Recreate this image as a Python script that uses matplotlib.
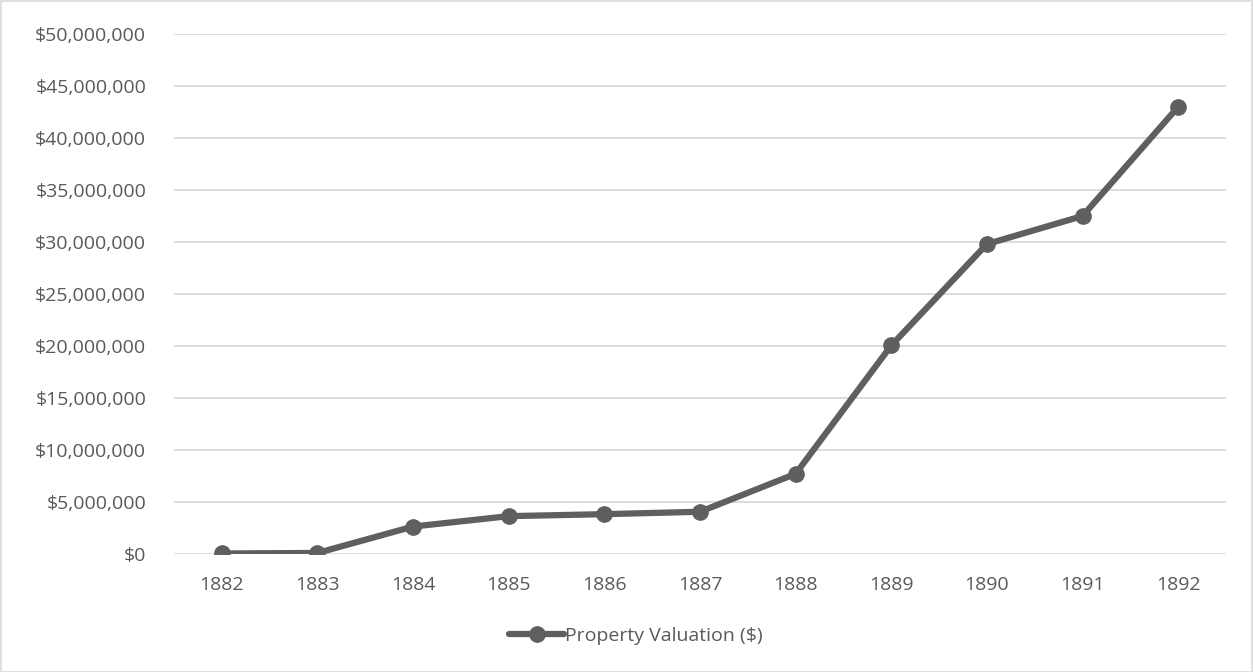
import matplotlib
matplotlib.use("Agg")
import matplotlib.pyplot as plt
from matplotlib.ticker import FuncFormatter, MultipleLocator
from matplotlib.patches import Rectangle

years = ["1882", "1883", "1884", "1885", "1886", "1887", "1888", "1889", "1890", "1891", "1892"]
valuation = [50000, 100000, 2640000, 3640000, 3830000, 4060000, 7710000, 20050000, 29800000, 32500000, 43000000]
series_name = "Property Valuation ($)"

W, H = 1253, 672
fig = plt.figure(figsize=(W / 100, H / 100), dpi=100)
plt.rcParams['font.family'] = ['Open Sans', 'DejaVu Sans']
text_color = "#595959"
grid_color = "#d9d9d9"
line_color = "#5f5f5f"
fs = 14

ax = fig.add_axes([174 / W, 1 - 554 / H, (1226 - 174) / W, (554 - 34) / H])
x = list(range(len(years)))
ax.plot(x, valuation, color=line_color, lw=4.5, marker='o', ms=11, solid_capstyle='round',
        label=series_name, zorder=3)
ax.set_xlim(-0.5, len(years) - 0.5)
ax.set_ylim(0, 50000000)
ax.yaxis.set_major_locator(MultipleLocator(5000000))
ax.yaxis.set_major_formatter(FuncFormatter(lambda v, p: "${:,.0f}".format(v)))
ax.set_xticks(x)
ax.set_xticklabels(years)
ax.grid(axis='y', color=grid_color, lw=1.3)
ax.set_axisbelow(True)
for s in ax.spines.values():
    s.set_visible(False)
ax.tick_params(axis='both', length=0, colors=text_color, labelsize=fs)
ax.tick_params(axis='y', pad=20)
ax.tick_params(axis='x', pad=16)

leg = fig.legend(loc='center', bbox_to_anchor=(636 / W, 1 - 636 / H), frameon=False,
                 fontsize=fs, labelcolor=text_color, handlelength=2.8, handletextpad=0.05)

fig.patches.append(Rectangle((0.5 / W, 0.5 / H), (W - 1.5) / W, (H - 1.5) / H,
                             transform=fig.transFigure, fill=False, edgecolor=grid_color, lw=1.2))

fig.savefig("out.png", dpi=100)
